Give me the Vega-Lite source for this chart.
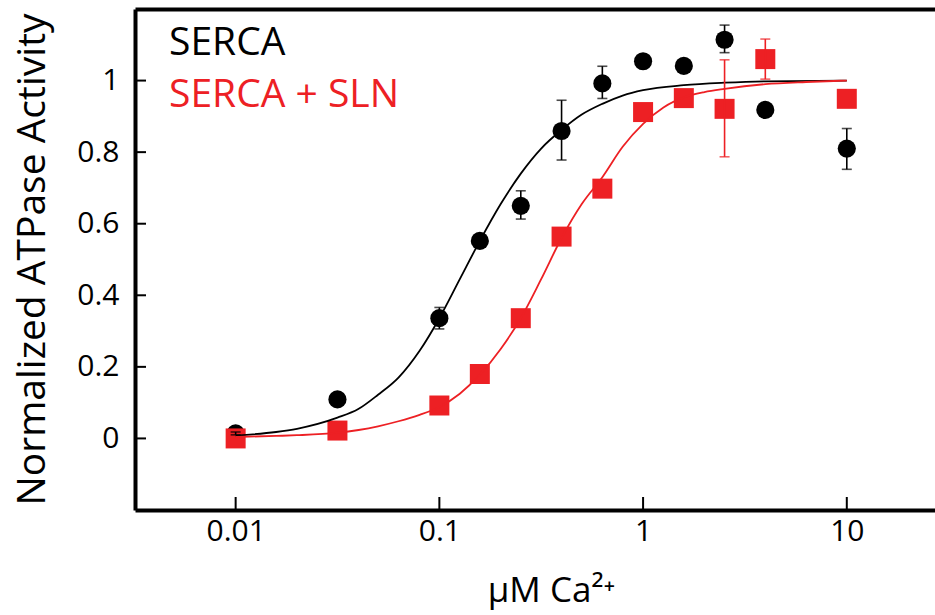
{
  "$schema": "https://vega.github.io/schema/vega-lite/v6.json",
  "width": 800,
  "height": 501,
  "autosize": {"type": "none"},
  "padding": {"left": 135, "top": 9, "right": 0, "bottom": 105},
  "background": "white",
  "config": {
    "view": {"stroke": null},
    "font": "Open Sans",
    "axis": {
      "grid": false,
      "domainColor": "#000000",
      "domainWidth": 4,
      "tickColor": "#000000",
      "tickWidth": 2,
      "labelColor": "#000000",
      "titleColor": "#000000",
      "labelFont": "Open Sans",
      "titleFont": "Open Sans",
      "labelFontWeight": "normal",
      "titleFontWeight": "normal"
    }
  },
  "datasets": {
    "points": [
      {"series": "SERCA", "conc": 0.01, "activity": 0.014},
      {"series": "SERCA", "conc": 0.0316, "activity": 0.109},
      {"series": "SERCA", "conc": 0.1, "activity": 0.336},
      {"series": "SERCA", "conc": 0.158, "activity": 0.552},
      {"series": "SERCA", "conc": 0.251, "activity": 0.65},
      {"series": "SERCA", "conc": 0.398, "activity": 0.859},
      {"series": "SERCA", "conc": 0.631, "activity": 0.992},
      {"series": "SERCA", "conc": 1.0, "activity": 1.054},
      {"series": "SERCA", "conc": 1.585, "activity": 1.041},
      {"series": "SERCA", "conc": 2.512, "activity": 1.114},
      {"series": "SERCA", "conc": 3.981, "activity": 0.918},
      {"series": "SERCA", "conc": 10, "activity": 0.81},
      {"series": "SERCA + SLN", "conc": 0.01, "activity": 0.0},
      {"series": "SERCA + SLN", "conc": 0.0316, "activity": 0.022},
      {"series": "SERCA + SLN", "conc": 0.1, "activity": 0.092},
      {"series": "SERCA + SLN", "conc": 0.158, "activity": 0.18},
      {"series": "SERCA + SLN", "conc": 0.251, "activity": 0.336},
      {"series": "SERCA + SLN", "conc": 0.398, "activity": 0.564},
      {"series": "SERCA + SLN", "conc": 0.631, "activity": 0.698},
      {"series": "SERCA + SLN", "conc": 1.0, "activity": 0.912},
      {"series": "SERCA + SLN", "conc": 1.585, "activity": 0.951},
      {"series": "SERCA + SLN", "conc": 2.512, "activity": 0.921},
      {"series": "SERCA + SLN", "conc": 3.981, "activity": 1.06},
      {"series": "SERCA + SLN", "conc": 10, "activity": 0.949}
    ],
    "errs": [
      {"series": "SERCA", "conc": 0.01, "lo": 0.01, "hi": 0.018},
      {"series": "SERCA", "conc": 0.1, "lo": 0.306, "hi": 0.366},
      {"series": "SERCA", "conc": 0.251, "lo": 0.613, "hi": 0.692},
      {"series": "SERCA", "conc": 0.398, "lo": 0.778, "hi": 0.945},
      {"series": "SERCA", "conc": 0.631, "lo": 0.95, "hi": 1.04},
      {"series": "SERCA", "conc": 2.512, "lo": 1.078, "hi": 1.155},
      {"series": "SERCA", "conc": 10, "lo": 0.752, "hi": 0.866},
      {"series": "SERCA + SLN", "conc": 2.512, "lo": 0.787, "hi": 1.058},
      {"series": "SERCA + SLN", "conc": 3.981, "lo": 1.004, "hi": 1.116}
    ],
    "xticks": [
      {"conc": 0.01}, {"conc": 0.1}, {"conc": 1}, {"conc": 10}
    ],
    "yticks": [
      {"activity": 0}, {"activity": 0.2}, {"activity": 0.4}, {"activity": 0.6}, {"activity": 0.8}, {"activity": 1}
    ],
    "fits": [
      {"series": "SERCA", "conc": 0.01, "activity": 0.008},
      {"series": "SERCA", "conc": 0.0158, "activity": 0.018},
      {"series": "SERCA", "conc": 0.02, "activity": 0.027},
      {"series": "SERCA", "conc": 0.0316, "activity": 0.058},
      {"series": "SERCA", "conc": 0.04, "activity": 0.082},
      {"series": "SERCA", "conc": 0.05, "activity": 0.122},
      {"series": "SERCA", "conc": 0.063, "activity": 0.17},
      {"series": "SERCA", "conc": 0.08, "activity": 0.245},
      {"series": "SERCA", "conc": 0.1, "activity": 0.336},
      {"series": "SERCA", "conc": 0.126, "activity": 0.445},
      {"series": "SERCA", "conc": 0.158, "activity": 0.552},
      {"series": "SERCA", "conc": 0.2, "activity": 0.655},
      {"series": "SERCA", "conc": 0.251, "activity": 0.74},
      {"series": "SERCA", "conc": 0.316, "activity": 0.81},
      {"series": "SERCA", "conc": 0.398, "activity": 0.862},
      {"series": "SERCA", "conc": 0.5, "activity": 0.905},
      {"series": "SERCA", "conc": 0.631, "activity": 0.935},
      {"series": "SERCA", "conc": 0.794, "activity": 0.958},
      {"series": "SERCA", "conc": 1.0, "activity": 0.973},
      {"series": "SERCA", "conc": 1.585, "activity": 0.987},
      {"series": "SERCA", "conc": 2.512, "activity": 0.994},
      {"series": "SERCA", "conc": 3.981, "activity": 0.998},
      {"series": "SERCA", "conc": 10, "activity": 1.0},
      {"series": "SERCA + SLN", "conc": 0.01, "activity": 0.004},
      {"series": "SERCA + SLN", "conc": 0.0158, "activity": 0.007},
      {"series": "SERCA + SLN", "conc": 0.02, "activity": 0.009},
      {"series": "SERCA + SLN", "conc": 0.0316, "activity": 0.016},
      {"series": "SERCA + SLN", "conc": 0.05, "activity": 0.034},
      {"series": "SERCA + SLN", "conc": 0.063, "activity": 0.048},
      {"series": "SERCA + SLN", "conc": 0.08, "activity": 0.066},
      {"series": "SERCA + SLN", "conc": 0.1, "activity": 0.088},
      {"series": "SERCA + SLN", "conc": 0.126, "activity": 0.125},
      {"series": "SERCA + SLN", "conc": 0.158, "activity": 0.178},
      {"series": "SERCA + SLN", "conc": 0.2, "activity": 0.25},
      {"series": "SERCA + SLN", "conc": 0.251, "activity": 0.336},
      {"series": "SERCA + SLN", "conc": 0.316, "activity": 0.445},
      {"series": "SERCA + SLN", "conc": 0.398, "activity": 0.56},
      {"series": "SERCA + SLN", "conc": 0.5, "activity": 0.655},
      {"series": "SERCA + SLN", "conc": 0.631, "activity": 0.73},
      {"series": "SERCA + SLN", "conc": 0.794, "activity": 0.815},
      {"series": "SERCA + SLN", "conc": 1.0, "activity": 0.879},
      {"series": "SERCA + SLN", "conc": 1.259, "activity": 0.925},
      {"series": "SERCA + SLN", "conc": 1.585, "activity": 0.953},
      {"series": "SERCA + SLN", "conc": 2.0, "activity": 0.968},
      {"series": "SERCA + SLN", "conc": 2.512, "activity": 0.977},
      {"series": "SERCA + SLN", "conc": 3.981, "activity": 0.99},
      {"series": "SERCA + SLN", "conc": 6.31, "activity": 0.996},
      {"series": "SERCA + SLN", "conc": 10, "activity": 1.0}
    ]
  },
  "resolve": {"axis": {"x": "independent", "y": "independent"}},
  "layer": [
    {
      "data": {"name": "points"},
      "mark": {"type": "point", "filled": true, "opacity": 1, "strokeWidth": 0},
      "encoding": {
        "x": {
          "field": "conc", "type": "quantitative",
          "scale": {"type": "log", "domain": [0.003206, 27.1], "nice": false},
          "axis": {
            "orient": "bottom",
            "values": [0.01, 0.1, 1, 10],
            "format": "~g",
            "labelFontSize": 30,
            "ticks": false,
            "labelPadding": 6,
            "title": "μM Ca²⁺",
            "titleFontSize": 35,
            "titleX": 416,
            "titleY": 91,
            "titleAlign": "center",
            "titleBaseline": "alphabetic"
          }
        },
        "y": {
          "field": "activity", "type": "quantitative",
          "scale": {"domain": [-0.2, 1.2], "nice": false, "zero": false},
          "axis": {
            "values": [0, 0.2, 0.4, 0.6, 0.8, 1],
            "format": "~g",
            "labelFontSize": 30,
            "ticks": false,
            "labelPadding": 16,
            "title": "Normalized ATPase Activity",
            "titleFontSize": 39,
            "titleAngle": 270,
            "titleX": -91,
            "titleY": 250,
            "titleAlign": "center",
            "titleBaseline": "alphabetic"
          }
        },
        "color": {
          "field": "series", "type": "nominal",
          "scale": {"domain": ["SERCA", "SERCA + SLN"], "range": ["#000000", "#ED2024"]},
          "legend": {
            "orient": "none",
            "legendX": -5,
            "legendY": 14,
            "title": null,
            "padding": 0,
            "symbolOpacity": 0,
            "symbolSize": 0,
            "symbolStrokeWidth": 0,
            "labelOffset": 0,
            "labelFont": "Open Sans",
            "labelFontSize": 39,
            "labelLimit": 400,
            "rowPadding": 12,
            "encode": {"labels": {"update": {"fill": {"scale": "color", "field": "value"}}}}
          }
        },
        "shape": {
          "field": "series", "type": "nominal",
          "scale": {"domain": ["SERCA", "SERCA + SLN"], "range": ["circle", "square"]},
          "legend": null
        },
        "size": {
          "field": "series", "type": "ordinal",
          "scale": {"domain": ["SERCA", "SERCA + SLN"], "range": [330, 400]},
          "legend": null
        }
      }
    },
    {
      "data": {"name": "fits"},
      "mark": {"type": "line", "strokeWidth": 1.8, "interpolate": "monotone"},
      "encoding": {
        "x": {
          "field": "conc", "type": "quantitative",
          "axis": {"orient": "top", "labels": false, "ticks": false, "title": null, "domainWidth": 4}
        },
        "y": {"field": "activity", "type": "quantitative", "axis": null},
        "color": {"field": "series", "type": "nominal", "legend": null}
      }
    },
    {
      "data": {"name": "errs"},
      "mark": {"type": "errorbar", "ticks": {"size": 10}, "thickness": 1.6},
      "encoding": {
        "x": {"field": "conc", "type": "quantitative", "axis": null},
        "y": {"field": "lo", "type": "quantitative", "axis": null},
        "y2": {"field": "hi"},
        "color": {"field": "series", "type": "nominal", "legend": null}
      }
    },
    {
      "data": {"name": "xticks"},
      "mark": {"type": "tick", "orient": "vertical", "size": 13, "thickness": 2, "color": "#000000", "opacity": 1, "yOffset": -6.5},
      "encoding": {
        "x": {"field": "conc", "type": "quantitative", "axis": null},
        "y": {"datum": -0.2, "type": "quantitative", "axis": null}
      }
    },
    {
      "data": {"name": "yticks"},
      "mark": {"type": "tick", "orient": "horizontal", "size": 11, "thickness": 2, "color": "#000000", "opacity": 1, "xOffset": 5.5},
      "encoding": {
        "y": {"field": "activity", "type": "quantitative", "axis": null},
        "x": {"datum": 0.003206, "type": "quantitative", "axis": null}
      }
    }
  ]
}
